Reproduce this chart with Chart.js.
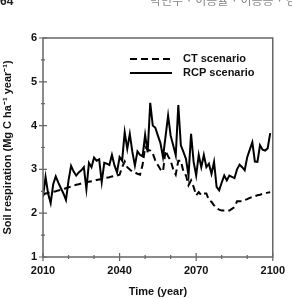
<!DOCTYPE html>
<html>
<head>
<meta charset="utf-8">
<script src="https://cdn.jsdelivr.net/npm/chart.js@4.4.0/dist/chart.umd.min.js"></script>
<style>
html, body { margin: 0; padding: 0; background: #fff; }
#wrap { width: 292px; height: 299px; position: relative; }
</style>
</head>
<body>
<div id="wrap"><canvas id="chart"></canvas></div>
<script>
// years of the simulation
const years = [
    2010, 2011, 2012, 2013, 2014, 2015, 2016, 2017, 2018, 2019,
    2020, 2021, 2022, 2023, 2024, 2025, 2026, 2027, 2028, 2029,
    2030, 2031, 2032, 2033, 2034, 2035, 2036, 2037, 2038, 2039,
    2040, 2041, 2042, 2043, 2044, 2045, 2046, 2047, 2048, 2049,
    2050, 2051, 2052, 2053, 2054, 2055, 2056, 2057, 2058, 2059,
    2060, 2061, 2062, 2063, 2064, 2065, 2066, 2067, 2068, 2069,
    2070, 2071, 2072, 2073, 2074, 2075, 2076, 2077, 2078, 2079,
    2080, 2081, 2082, 2083, 2084, 2085, 2086, 2087, 2088, 2089,
    2090, 2091, 2092, 2093, 2094, 2095, 2096, 2097, 2098, 2099
];

// CT scenario (dashed)
const ctValues = [
    2.42, 2.45, 2.46, 2.48, 2.49, 2.50, 2.52, 2.53, 2.55, 2.57,
    2.59, 2.61, 2.63, 2.65, 2.66, 2.68, 2.70, 2.70, 2.72, 2.73,
    2.74, 2.76, 2.77, 2.78, 2.80, 2.81, 2.82, 2.84, 2.85, 2.86,
    2.88, 3.05, 3.18, 3.05, 3.00, 2.95, 2.93, 2.90, 2.88, 3.10,
    3.51, 3.45, 3.43, 3.36, 3.20, 3.10, 3.00, 2.95, 3.43, 3.30,
    3.20, 3.00, 2.88, 3.20, 3.20, 2.95, 2.86, 2.64, 2.75, 2.60,
    2.41, 2.48, 2.41, 2.45, 2.45, 2.30, 2.26, 2.18, 2.11, 2.08,
    2.06, 2.06, 2.06, 2.06, 2.10, 2.14, 2.27, 2.27, 2.27, 2.30,
    2.32, 2.35, 2.37, 2.39, 2.41, 2.42, 2.44, 2.45, 2.47, 2.48
];

// RCP scenario (solid)
const rcpValues = [
    2.37, 2.83, 2.45, 2.23, 2.66, 2.84, 2.70, 2.57, 2.45, 2.30,
    2.75, 3.08, 2.95, 2.86, 2.93, 2.98, 3.05, 2.55, 3.15, 3.05,
    3.27, 3.20, 3.23, 2.71, 3.15, 3.13, 3.10, 3.33, 3.09, 2.93,
    3.28, 3.20, 3.85, 3.47, 3.81, 3.40, 3.09, 3.41, 3.33, 3.30,
    3.79, 3.39, 4.52, 4.00, 3.95, 3.77, 3.60, 3.28, 3.75, 4.23,
    3.77, 3.55, 3.32, 4.47, 3.55, 3.40, 3.24, 2.86, 3.81, 3.17,
    2.86, 3.33, 3.05, 3.33, 3.05, 3.13, 2.90, 3.17, 2.60, 2.52,
    2.70, 2.86, 2.75, 2.86, 2.83, 2.80, 3.00, 3.11, 3.05, 2.98,
    3.28, 3.45, 3.62, 3.18, 3.17, 3.55, 3.45, 3.43, 3.48, 3.83
];

const seriesNames = ['CT scenario', 'RCP scenario'];
const xTickLabels = [2010, 2040, 2070, 2100];
const yTickLabels = [1, 2, 3, 4, 5, 6];

const toPoints = (vals) => years.map((yr, i) => ({x: yr, y: vals[i]}));

const boldFont = (size) => ({family: 'Arial, "Liberation Sans", sans-serif', size: size, weight: 'bold'});

// box, crossing tick marks, legend and the page header
const decor = {
    id: 'decor',
    afterDraw(chart) {
        const ctx = chart.ctx;
        const a = chart.chartArea;
        const xs = chart.scales.x;
        const ys = chart.scales.y;
        ctx.save();
        ctx.strokeStyle = '#666';
        ctx.lineWidth = 1.5;
        ctx.strokeRect(a.left, a.top, a.right - a.left, a.bottom - a.top);

        ctx.lineWidth = 1.2;
        ctx.beginPath();
        for (let v = 2010; v <= 2100; v += 10) {
            const px = xs.getPixelForValue(v);
            const big = xTickLabels.includes(v);
            ctx.moveTo(px, a.bottom - (big ? 4 : 2));
            ctx.lineTo(px, a.bottom + (big ? 4 : 2));
        }
        for (let v = 1; v <= 6; v += 0.5) {
            const py = ys.getPixelForValue(v);
            const big = Number.isInteger(v);
            ctx.moveTo(a.left - (big ? 4 : 2), py);
            ctx.lineTo(a.left + (big ? 4 : 2), py);
        }
        ctx.stroke();

        // legend
        ctx.strokeStyle = '#000';
        ctx.lineWidth = 2;
        ctx.font = 'bold 11px Arial, "Liberation Sans", sans-serif';
        ctx.fillStyle = '#111';
        ctx.textBaseline = 'middle';
        const rows = [59, 73];
        chart.data.datasets.forEach((ds, i) => {
            ctx.beginPath();
            ctx.setLineDash(ds.borderDash || []);
            ctx.moveTo(130, rows[i]);
            ctx.lineTo(172, rows[i]);
            ctx.stroke();
            ctx.setLineDash([]);
            ctx.fillText(ds.label, 183, rows[i]);
        });

        // page header, cut off by the top edge
        ctx.textBaseline = 'alphabetic';
        ctx.font = 'bold 12px Arial, "Liberation Sans", sans-serif';
        ctx.fillStyle = '#222';
        ctx.fillText('64', 0, 5);
        ctx.font = '12px "Noto Sans CJK KR", sans-serif';
        ctx.fillStyle = '#888';
        ctx.fillText('박민수 · 이승률 · 이승용 · 김민', 150, 5);
        ctx.restore();
    }
};

const chart = new Chart(document.getElementById('chart'), {
    type: 'line',
    data: {
        datasets: [{
            label: seriesNames[0],
            data: toPoints(ctValues),
            borderColor: '#000',
            borderWidth: 2,
            borderDash: [7, 4],
            pointRadius: 0,
            fill: false,
            tension: 0
        }, {
            label: seriesNames[1],
            data: toPoints(rcpValues),
            borderColor: '#000',
            borderWidth: 2,
            pointRadius: 0,
            fill: false,
            tension: 0
        }]
    },
    options: {
        responsive: true,
        maintainAspectRatio: false,
        animation: false,
        layout: {
            padding: {top: 38, right: 17, left: 0, bottom: 0}
        },
        plugins: {
            legend: {display: false},
            tooltip: {enabled: false}
        },
        scales: {
            x: {
                type: 'linear',
                min: 2010,
                max: 2100,
                border: {display: false},
                grid: {display: false, drawTicks: false},
                ticks: {
                    stepSize: 10,
                    autoSkip: false,
                    maxRotation: 0,
                    padding: 7,
                    color: '#111',
                    font: boldFont(11),
                    callback: (v) => xTickLabels.includes(v) ? String(v) : ''
                },
                title: {
                    display: true,
                    text: 'Time (year)',
                    color: '#111',
                    font: boldFont(11),
                    padding: {top: 0, bottom: 0}
                },
                afterFit: (scale) => { scale.height = 42; }
            },
            y: {
                min: 1,
                max: 6,
                border: {display: false},
                grid: {display: false, drawTicks: false},
                ticks: {
                    stepSize: 0.5,
                    padding: 6,
                    color: '#111',
                    font: boldFont(11),
                    callback: (v) => yTickLabels.includes(v) ? String(v) : ''
                },
                title: {
                    display: true,
                    text: 'Soil respiration (Mg C ha⁻¹ year⁻¹)',
                    color: '#111',
                    font: boldFont(11),
                    padding: {top: 1, bottom: 0}
                },
                afterFit: (scale) => { scale.width = 43; }
            }
        }
    },
    plugins: [decor]
});
</script>
</body>
</html>
